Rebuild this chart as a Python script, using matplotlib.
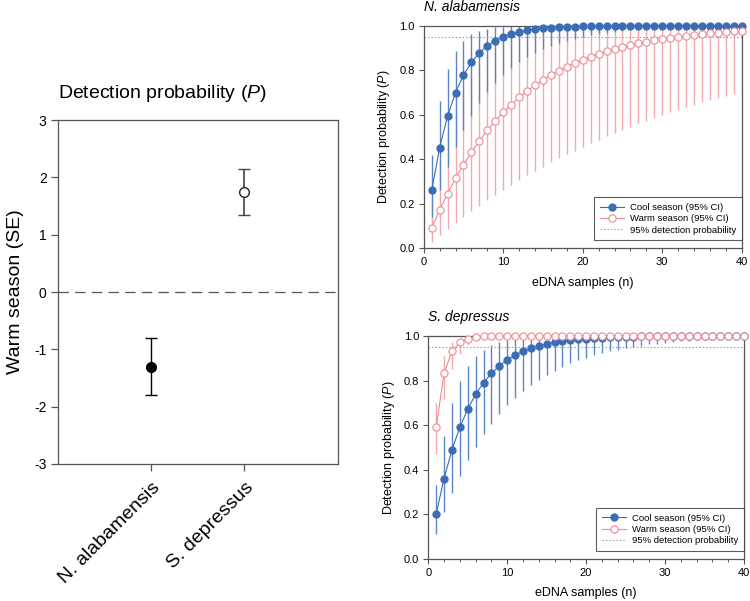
import numpy as np
import matplotlib
matplotlib.use("Agg")
import matplotlib.pyplot as plt
import matplotlib.transforms as mtransforms
from matplotlib.ticker import MultipleLocator, FormatStrFormatter
from matplotlib.lines import Line2D

plt.rcParams['font.family'] = ['Liberation Sans', 'DejaVu Sans']
plt.rcParams['mathtext.fontset'] = 'custom'
plt.rcParams['mathtext.rm'] = 'Liberation Sans'
plt.rcParams['mathtext.it'] = 'Liberation Sans:italic'
plt.rcParams['lines.scale_dashes'] = False
plt.rcParams['axes.unicode_minus'] = False

# left panel: warm season effect (SE)
species = ["N. alabamensis", "S. depressus"]
effect = [-1.30, 1.74]
effect_se = [0.50, 0.40]

# right panels: cumulative detection probability vs number of eDNA samples
n_samples = np.arange(1, 41)

na_cool = [0.260, 0.452, 0.595, 0.700, 0.778, 0.836, 0.878, 0.910, 0.933, 0.951,
           0.964, 0.973, 0.980, 0.985, 0.989, 0.992, 0.994, 0.996, 0.997, 0.998,
           0.998, 0.999, 0.999, 0.999, 0.999, 1.000, 1.000, 1.000, 1.000, 1.000,
           1.000, 1.000, 1.000, 1.000, 1.000, 1.000, 1.000, 1.000, 1.000, 1.000]
na_cool_lo = [0.140, 0.260, 0.364, 0.453, 0.530, 0.595, 0.652, 0.701, 0.743, 0.779,
              0.810, 0.836, 0.859, 0.879, 0.896, 0.910, 0.923, 0.934, 0.943, 0.951,
              0.958, 0.964, 0.969, 0.973, 0.977, 0.980, 0.983, 0.985, 0.987, 0.989,
              0.991, 0.992, 0.993, 0.994, 0.995, 0.996, 0.996, 0.997, 0.997, 0.998]
na_cool_hi = [0.420, 0.664, 0.805, 0.887, 0.934, 0.962, 0.978, 0.987, 0.993, 0.996,
              0.998, 0.999, 0.999, 1.000, 1.000, 1.000, 1.000, 1.000, 1.000, 1.000,
              1.000, 1.000, 1.000, 1.000, 1.000, 1.000, 1.000, 1.000, 1.000, 1.000,
              1.000, 1.000, 1.000, 1.000, 1.000, 1.000, 1.000, 1.000, 1.000, 1.000]
na_warm = [0.090, 0.172, 0.246, 0.314, 0.376, 0.432, 0.483, 0.530, 0.572, 0.611,
           0.646, 0.678, 0.707, 0.733, 0.757, 0.779, 0.799, 0.817, 0.833, 0.848,
           0.862, 0.874, 0.886, 0.896, 0.905, 0.914, 0.922, 0.929, 0.935, 0.941,
           0.946, 0.951, 0.955, 0.960, 0.963, 0.966, 0.969, 0.972, 0.975, 0.977]
na_warm_lo = [0.030, 0.059, 0.087, 0.115, 0.141, 0.167, 0.192, 0.216, 0.240, 0.263,
              0.285, 0.306, 0.327, 0.347, 0.367, 0.386, 0.404, 0.422, 0.439, 0.456,
              0.473, 0.488, 0.504, 0.519, 0.533, 0.547, 0.561, 0.574, 0.587, 0.599,
              0.611, 0.623, 0.634, 0.645, 0.656, 0.666, 0.676, 0.686, 0.695, 0.704]
na_warm_hi = [0.220, 0.392, 0.525, 0.630, 0.711, 0.775, 0.824, 0.863, 0.893, 0.917,
              0.935, 0.949, 0.960, 0.969, 0.976, 0.981, 0.985, 0.989, 0.991, 0.993,
              0.995, 0.996, 0.997, 0.997, 0.998, 0.998, 0.999, 0.999, 0.999, 0.999,
              1.000, 1.000, 1.000, 1.000, 1.000, 1.000, 1.000, 1.000, 1.000, 1.000]

sd_cool = [0.200, 0.360, 0.488, 0.590, 0.672, 0.738, 0.790, 0.832, 0.866, 0.893,
           0.914, 0.931, 0.945, 0.956, 0.965, 0.972, 0.977, 0.982, 0.986, 0.988,
           0.991, 0.993, 0.994, 0.995, 0.996, 0.997, 0.998, 0.998, 0.998, 0.999,
           0.999, 0.999, 0.999, 0.999, 1.000, 1.000, 1.000, 1.000, 1.000, 1.000]
sd_cool_lo = [0.110, 0.208, 0.295, 0.373, 0.442, 0.503, 0.558, 0.606, 0.650, 0.688,
              0.722, 0.753, 0.780, 0.804, 0.826, 0.845, 0.862, 0.877, 0.891, 0.903,
              0.913, 0.923, 0.931, 0.939, 0.946, 0.952, 0.957, 0.962, 0.966, 0.970,
              0.973, 0.976, 0.979, 0.981, 0.983, 0.985, 0.987, 0.988, 0.989, 0.991]
sd_cool_hi = [0.330, 0.551, 0.699, 0.798, 0.865, 0.910, 0.939, 0.959, 0.973, 0.982,
              0.988, 0.992, 0.995, 0.996, 0.998, 0.998, 0.999, 0.999, 1.000, 1.000,
              1.000, 1.000, 1.000, 1.000, 1.000, 1.000, 1.000, 1.000, 1.000, 1.000,
              1.000, 1.000, 1.000, 1.000, 1.000, 1.000, 1.000, 1.000, 1.000, 1.000]
sd_warm = [0.590, 0.832, 0.931, 0.972, 0.988, 0.995, 0.998, 0.999, 1.000, 1.000,
           1.000, 1.000, 1.000, 1.000, 1.000, 1.000, 1.000, 1.000, 1.000, 1.000,
           1.000, 1.000, 1.000, 1.000, 1.000, 1.000, 1.000, 1.000, 1.000, 1.000,
           1.000, 1.000, 1.000, 1.000, 1.000, 1.000, 1.000, 1.000, 1.000, 1.000]
sd_warm_lo = [0.470, 0.719, 0.851, 0.921, 0.958, 0.978, 0.988, 0.994, 0.997, 0.998,
              0.999, 1.000, 1.000, 1.000, 1.000, 1.000, 1.000, 1.000, 1.000, 1.000,
              1.000, 1.000, 1.000, 1.000, 1.000, 1.000, 1.000, 1.000, 1.000, 1.000,
              1.000, 1.000, 1.000, 1.000, 1.000, 1.000, 1.000, 1.000, 1.000, 1.000]
sd_warm_hi = [0.700, 0.910, 0.973, 0.992, 0.998, 0.999, 1.000, 1.000, 1.000, 1.000,
              1.000, 1.000, 1.000, 1.000, 1.000, 1.000, 1.000, 1.000, 1.000, 1.000,
              1.000, 1.000, 1.000, 1.000, 1.000, 1.000, 1.000, 1.000, 1.000, 1.000,
              1.000, 1.000, 1.000, 1.000, 1.000, 1.000, 1.000, 1.000, 1.000, 1.000]

BLUE = '#3b6db5'
BLUE_BAR = '#5a86c4'
PINK = '#ec8a90'
PINK_BAR = '#f3a9ad'
FRAME = '#555555'

fig = plt.figure(figsize=(7.5, 6.01), dpi=100)

# ---- left panel ----
ax0 = fig.add_axes([0.077, 0.228, 0.373, 0.572])
ax0.axhline(0, color='#555555', lw=0.9, ls=(0, (7.5, 4.5)), zorder=1)
ax0.errorbar(1, effect[0], yerr=effect_se[0], fmt='o', color='black', mfc='black',
             mec='black', ms=7, capsize=4.5, elinewidth=1.0, capthick=1.0, zorder=3)
ax0.errorbar(2, effect[1], yerr=effect_se[1], fmt='o', color='#444444', mfc='white',
             mec='#222222', ms=7, mew=1.0, capsize=4.5, elinewidth=1.2, capthick=1.2, zorder=3)
ax0.set_xlim(0, 3)
ax0.set_ylim(-3, 3)
ax0.set_xticks([1, 2])
ax0.set_xticklabels(species, rotation=45, ha='right', va='center',
                    rotation_mode='anchor', fontsize=14)
ax0.set_yticks(range(-3, 4))
ax0.tick_params(axis='y', labelsize=10, length=5, width=0.9, color=FRAME, pad=3)
ax0.tick_params(axis='x', length=5, width=0.9, color=FRAME, pad=10)
shift = mtransforms.ScaledTranslation(5 / 72, 0, fig.dpi_scale_trans)
for lbl in ax0.get_xticklabels():
    lbl.set_transform(lbl.get_transform() + shift)
for s in ax0.spines.values():
    s.set_color(FRAME)
    s.set_linewidth(0.9)
ax0.set_ylabel('Warm season (SE)', fontsize=14, labelpad=7)
ax0.set_title('Detection probability ($\\it{P}$)', fontsize=14, loc='left', pad=16)


def draw_panel(ax, title, cool, cool_lo, cool_hi, warm, warm_lo, warm_hi):
    ax.vlines(n_samples, warm_lo, warm_hi, color=PINK_BAR, lw=1.0, zorder=1)
    ax.vlines(n_samples, cool_lo, cool_hi, color=BLUE_BAR, lw=1.0, zorder=2)
    ax.axhline(0.95, color='#9a9a9a', lw=0.8, ls=(0, (1, 1.5)), zorder=2.5)
    ax.plot(n_samples, cool, '-o', color=BLUE, mfc=BLUE, mec=BLUE, ms=5, lw=0.8,
            zorder=3, clip_on=False)
    ax.plot(n_samples, warm, '-o', color=PINK, mfc='white', mec=PINK, ms=5.2, mew=0.8,
            lw=0.8, zorder=4, clip_on=False)
    ax.set_xlim(0, 40)
    ax.set_ylim(0, 1)
    ax.xaxis.set_major_locator(MultipleLocator(10))
    ax.xaxis.set_minor_locator(MultipleLocator(2))
    ax.yaxis.set_major_locator(MultipleLocator(0.2))
    ax.yaxis.set_major_formatter(FormatStrFormatter('%.1f'))
    ax.tick_params(which='major', labelsize=8, length=3.5, width=0.8, color=FRAME, pad=3)
    ax.tick_params(which='minor', length=2, width=0.7, color=FRAME)
    for s in ax.spines.values():
        s.set_color(FRAME)
        s.set_linewidth(0.9)
    ax.set_xlabel('eDNA samples (n)', fontsize=9, labelpad=7)
    ax.set_ylabel('Detection probability ($\\it{P}$)', fontsize=9, labelpad=5)
    ax.set_title(title, fontsize=10, style='italic', loc='left', pad=11)

    handles = [
        Line2D([], [], color=BLUE, marker='o', mfc=BLUE, mec=BLUE, ms=5, lw=0.8),
        Line2D([], [], color=PINK, marker='o', mfc='white', mec=PINK, ms=5.2, mew=0.8, lw=0.8),
        Line2D([], [], color='#9a9a9a', lw=0.8, ls=(0, (1, 1.5))),
    ]
    labels = ['Cool season (95% CI)', 'Warm season (95% CI)', '95% detection probability']
    leg = ax.legend(handles, labels, loc='lower right', bbox_to_anchor=(1.0, 0.035),
                    borderaxespad=0, fontsize=6.8, frameon=True, fancybox=False,
                    handlelength=2.6, handletextpad=0.6, borderpad=0.6,
                    labelspacing=0.25, numpoints=1)
    leg.get_frame().set_edgecolor('#333333')
    leg.get_frame().set_linewidth(0.8)


ax1 = fig.add_axes([0.565, 0.587, 0.424, 0.370])
draw_panel(ax1, 'N. alabamensis', na_cool, na_cool_lo, na_cool_hi,
           na_warm, na_warm_lo, na_warm_hi)

ax2 = fig.add_axes([0.571, 0.0704, 0.421, 0.3705])
draw_panel(ax2, 'S. depressus', sd_cool, sd_cool_lo, sd_cool_hi,
           sd_warm, sd_warm_lo, sd_warm_hi)

fig.savefig('out.png', dpi=100)
